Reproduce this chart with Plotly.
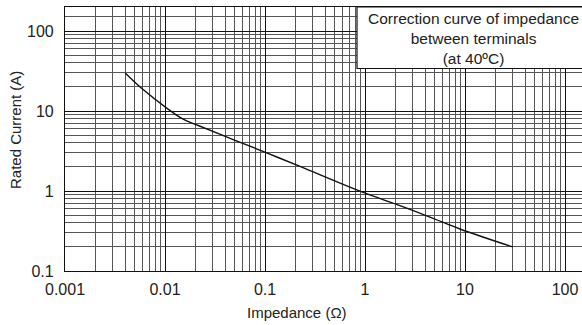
import plotly.graph_objects as go

# Curve data
impedance = [0.004, 0.006, 0.0104, 0.0152, 0.0215, 0.048, 0.104, 0.224, 0.96, 2.07, 4.8, 8.9, 30]
rated_current = [30, 18.7, 10.9, 7.9, 6.6, 4.4, 3.0, 2.03, 0.96, 0.68, 0.456, 0.335, 0.2]

# Tick labels
x_tick_vals = [0.001, 0.01, 0.1, 1, 10, 100]
x_tick_text = ["0.001", "0.01", "0.1", "1", "10", "100"]
y_tick_vals = [0.1, 1, 10, 100]
y_tick_text = ["0.1", "1", "10", "100"]

x_minor_vals = [m * d for d in [0.001, 0.01, 0.1, 1, 10] for m in range(2, 10)]
y_minor_vals = [m * d for d in [0.1, 1, 10] for m in range(2, 10)] + [150]

FONT = "Liberation Sans, Arial, sans-serif"

fig = go.Figure()
fig.add_trace(go.Scatter(
    x=impedance, y=rated_current, mode="lines",
    line=dict(color="#111111", width=1.4, shape="spline", smoothing=1.0),
    showlegend=False, hoverinfo="skip",
))

fig.update_layout(
    width=582, height=325,
    margin=dict(l=65, r=0, t=7, b=54),
    paper_bgcolor="white", plot_bgcolor="white",
    font=dict(family=FONT, size=16, color="#222222"),
    showlegend=False,
)

fig.update_xaxes(
    type="log", range=[-3, 2.17],
    tickmode="array", tickvals=x_tick_vals, ticktext=x_tick_text,
    ticks="", ticklabelstandoff=4,
    showgrid=True, gridcolor="#111111", gridwidth=1,
    minor=dict(tickmode="array", tickvals=x_minor_vals, showgrid=True,
               gridcolor="#555555", gridwidth=1),
    showline=True, linecolor="#111111", linewidth=1.2, mirror=True,
    zeroline=False,
)
fig.update_yaxes(
    type="log", range=[-1, 2.30103],
    tickmode="array", tickvals=y_tick_vals, ticktext=y_tick_text,
    ticks="", ticklabelstandoff=7,
    showgrid=True, gridcolor="#111111", gridwidth=1,
    minor=dict(tickmode="array", tickvals=y_minor_vals, showgrid=True,
               gridcolor="#555555", gridwidth=1),
    showline=True, linecolor="#111111", linewidth=1.2, mirror=False,
    zeroline=False,
)

# Note box
fig.add_shape(type="rect", xref="paper", yref="paper",
              x0=0.5648, x1=1.1, y0=0.767, y1=1.0,
              fillcolor="white", line=dict(color="#111111", width=1.2),
              layer="above")
fig.add_annotation(
    xref="paper", yref="paper", x=0.79, y=0.88,
    text="Correction curve of impedance<br>between terminals<br>(at 40ºC)",
    showarrow=False, align="center", font=dict(size=15.5, family=FONT, color="#222222"),
    xanchor="center", yanchor="middle",
)

# Axis titles
fig.add_annotation(xref="paper", yref="paper", x=0.4487, y=-0.159,
                   text="Impedance (Ω)", showarrow=False,
                   font=dict(size=15, family=FONT, color="#222222"),
                   xanchor="center", yanchor="middle")
fig.add_annotation(xref="paper", yref="paper", x=-0.0967, y=0.534,
                   text="Rated Current (A)", showarrow=False, textangle=-90,
                   font=dict(size=15, family=FONT, color="#222222"),
                   xanchor="center", yanchor="middle")

fig.write_html("out.html", config={"displayModeBar": False},
               post_script="document.body.style.margin='0';document.body.style.overflow='hidden';")
